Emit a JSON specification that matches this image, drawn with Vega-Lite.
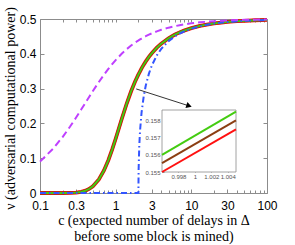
{
  "$schema": "https://vega.github.io/schema/vega-lite/v6.json",
  "width": 227,
  "height": 174,
  "autosize": {"type": "none"},
  "padding": {"left": 40, "top": 19, "right": 28, "bottom": 52},
  "background": "white",
  "config": {
    "view": {"stroke": "#8c8c8c", "strokeWidth": 1},
    "axis": {"labelFont": "Liberation Sans", "titleFont": "Liberation Serif", "titleFontWeight": "normal", "grid": false, "domain": false, "tickColor": "#8c8c8c", "labelColor": "#000000", "titleColor": "#000000", "labelFlush": false, "labelOverlap": false}
  },
  "datasets": {
    "curves": [
      {"c": 0.1, "tight": 0.0901, "pss": 0, "ours": 0},
      {"c": 0.15, "tight": 0.128, "pss": 0, "ours": 0},
      {"c": 0.2, "tight": 0.1615, "pss": 0, "ours": 0.00005},
      {"c": 0.25, "tight": 0.191, "pss": 0, "ours": 0.0003},
      {"c": 0.3, "tight": 0.2169, "pss": 0, "ours": 0.0013},
      {"c": 0.35, "tight": 0.2397, "pss": 0, "ours": 0.0034},
      {"c": 0.4, "tight": 0.2597, "pss": 0, "ours": 0.0069},
      {"c": 0.45, "tight": 0.2773, "pss": 0, "ours": 0.0123},
      {"c": 0.5, "tight": 0.2929, "pss": 0, "ours": 0.0195},
      {"c": 0.6, "tight": 0.319, "pss": 0, "ours": 0.0391},
      {"c": 0.7, "tight": 0.3398, "pss": 0, "ours": 0.0646},
      {"c": 0.8, "tight": 0.3566, "pss": 0, "ours": 0.0941},
      {"c": 0.9, "tight": 0.3704, "pss": 0, "ours": 0.1252},
      {"c": 1, "tight": 0.382, "pss": 0, "ours": 0.156},
      {"c": 1.2, "tight": 0.4, "pss": 0, "ours": 0.2119},
      {"c": 1.4, "tight": 0.4134, "pss": 0, "ours": 0.2571},
      {"c": 1.6, "tight": 0.4237, "pss": 0, "ours": 0.2923},
      {"c": 1.8, "tight": 0.4318, "pss": 0, "ours": 0.3195},
      {"c": 2, "tight": 0.4384, "pss": 0, "ours": 0.341},
      {"c": 2.001, "tight": 0.4384, "pss": 0.0219, "ours": 0.3411},
      {"c": 2.01, "tight": 0.4388, "pss": 0.0659, "ours": 0.3419},
      {"c": 2.05, "tight": 0.4399, "pss": 0.1351, "ours": 0.3453},
      {"c": 2.1, "tight": 0.4413, "pss": 0.1791, "ours": 0.3496},
      {"c": 2.2, "tight": 0.4439, "pss": 0.2317, "ours": 0.3581},
      {"c": 2.35, "tight": 0.4474, "pss": 0.2784, "ours": 0.3689},
      {"c": 2.5, "tight": 0.4505, "pss": 0.309, "ours": 0.3781},
      {"c": 2.75, "tight": 0.4549, "pss": 0.343, "ours": 0.3911},
      {"c": 3, "tight": 0.4586, "pss": 0.366, "ours": 0.4015},
      {"c": 3.5, "tight": 0.4645, "pss": 0.3956, "ours": 0.4175},
      {"c": 4, "tight": 0.4689, "pss": 0.4142, "ours": 0.429},
      {"c": 5, "tight": 0.4751, "pss": 0.4365, "ours": 0.4446},
      {"c": 6, "tight": 0.4792, "pss": 0.4495, "ours": 0.4546},
      {"c": 7, "tight": 0.4822, "pss": 0.458, "ours": 0.4615},
      {"c": 8, "tight": 0.4844, "pss": 0.4641, "ours": 0.4665},
      {"c": 10, "tight": 0.4875, "pss": 0.4721, "ours": 0.4736},
      {"c": 13, "tight": 0.4904, "pss": 0.4792, "ours": 0.48},
      {"c": 16, "tight": 0.4922, "pss": 0.4833, "ours": 0.4839},
      {"c": 20, "tight": 0.4938, "pss": 0.4868, "ours": 0.4872},
      {"c": 25, "tight": 0.495, "pss": 0.4896, "ours": 0.4898},
      {"c": 30, "tight": 0.4958, "pss": 0.4914, "ours": 0.4916},
      {"c": 40, "tight": 0.4969, "pss": 0.4936, "ours": 0.4937},
      {"c": 50, "tight": 0.4975, "pss": 0.4949, "ours": 0.4949},
      {"c": 70, "tight": 0.4982, "pss": 0.4964, "ours": 0.4964},
      {"c": 100, "tight": 0.4988, "pss": 0.4975, "ours": 0.4975}
    ],
    "arrow": [{"c": 1.87, "nu": 0.299, "c2": 9.33, "nu2": 0.2503}],
    "head": [{"c": 9.33, "nu": 0.2503}],
    "frame": [{"x": 0.996, "x2": 1.005, "y": 0.155, "y2": 0.1586}],
    "inset": [
      {"s": "red", "x": 0.996, "y": 0.155},
      {"s": "red", "x": 1.005, "y": 0.15747},
      {"s": "brown", "x": 0.996, "y": 0.15552},
      {"s": "brown", "x": 1.005, "y": 0.158},
      {"s": "green", "x": 0.996, "y": 0.156},
      {"s": "green", "x": 1.005, "y": 0.1585}
    ]
  },
  "layer": [
    {
      "data": {"name": "curves"},
      "encoding": {
        "x": {
          "field": "c", "type": "quantitative",
          "scale": {"type": "log", "domain": [0.1, 100], "nice": false},
          "axis": {
            "values": [0.1, 0.3, 1, 3, 10, 30, 100],
            "format": "~g",
            "title": ["c (expected number of delays in Δ", "before some block is mined)"],
            "labelFontSize": 12, "labelPadding": 11, "tickSize": -4,
            "titleFontSize": 14, "titleY": 31, "titleBaseline": "alphabetic", "titleLineHeight": 16
          }
        },
        "y": {
          "field": "nu", "type": "quantitative",
          "scale": {"domain": [0, 0.5], "nice": false, "zero": false},
          "axis": {
            "values": [0, 0.1, 0.2, 0.3, 0.4, 0.5], "format": "~g",
            "title": "ν (adversarial computational power)",
            "labelFontSize": 12, "labelPadding": 8, "tickSize": -4,
            "titleFontSize": 14, "titleX": -26, "titleY": 89, "titleBaseline": "alphabetic", "titleAlign": "center", "titleAngle": 270
          }
        }
      },
      "layer": [
        {"transform": [{"fold": ["ours"], "as": ["s", "nu"]}], "mark": {"type": "line", "color": "#ff1010", "strokeWidth": 3.8}},
        {"transform": [{"fold": ["ours"], "as": ["s", "nu"]}], "mark": {"type": "line", "color": "#8b3e13", "strokeWidth": 2.8}},
        {"transform": [{"fold": ["ours"], "as": ["s", "nu"]}], "mark": {"type": "line", "color": "#44cc11", "strokeWidth": 1.8}},
        {"transform": [{"fold": ["pss"], "as": ["s", "nu"]}], "mark": {"type": "line", "color": "#3355ff", "strokeWidth": 2, "strokeDash": [6, 3, 1.5, 3]}},
        {"transform": [{"fold": ["tight"], "as": ["s", "nu"]}], "mark": {"type": "line", "color": "#bf3fff", "strokeWidth": 2, "strokeDash": [7, 4]}},
        {"data": {"name": "arrow"}, "mark": {"type": "rule", "color": "#000000", "strokeWidth": 0.8}, "encoding": {"x2": {"field": "c2"}, "y2": {"field": "nu2"}}},
        {"data": {"name": "head"}, "mark": {"type": "point", "shape": "triangle-right", "filled": true, "color": "#000000", "opacity": 1, "size": 40, "angle": 18}}
      ]
    },
    {
      "data": {"name": "curves"},
      "mark": {"type": "point", "opacity": 0},
      "encoding": {
        "x": {
          "field": "c", "type": "quantitative",
          "scale": {"type": "log", "domain": [0.1, 100], "nice": false},
          "axis": {
            "orient": "top", "labels": false, "title": null, "tickSize": -3,
            "values": [0.1, 0.2, 0.3, 0.4, 0.5, 0.6, 0.7, 0.8, 0.9, 1, 2, 3, 4, 5, 6, 7, 8, 9, 10, 20, 30, 40, 50, 60, 70, 80, 90, 100]
          }
        },
        "y": {
          "field": "ours", "type": "quantitative",
          "scale": {"domain": [0, 0.5], "nice": false, "zero": false},
          "axis": {"orient": "right", "labels": false, "title": null, "tickSize": -4, "values": [0, 0.1, 0.2, 0.3, 0.4, 0.5]}
        }
      }
    },
    {
      "data": {"name": "curves"},
      "mark": {"type": "point", "opacity": 0},
      "encoding": {
        "x": {
          "field": "c", "type": "quantitative",
          "scale": {"type": "log", "domain": [0.1, 100], "nice": false},
          "axis": {
            "orient": "bottom", "labels": false, "title": null, "tickSize": -3,
            "values": [0.2, 0.4, 0.5, 0.6, 0.7, 0.8, 0.9, 2, 4, 5, 6, 7, 8, 9, 20, 40, 50, 60, 70, 80, 90]
          }
        },
        "y": {
          "field": "ours", "type": "quantitative",
          "scale": {"domain": [0, 0.5], "nice": false, "zero": false},
          "axis": null
        }
      }
    },
    {
      "data": {"name": "inset"},
      "encoding": {
        "x": {
          "field": "x", "type": "quantitative",
          "scale": {"domain": [0.996, 1.005], "range": [122, 196], "nice": false, "zero": false},
          "axis": {
            "orient": "bottom", "offset": -21, "values": [0.998, 1, 1.002, 1.004], "format": "~g",
            "title": null, "labelFontSize": 6, "labelColor": "#555555", "tickSize": -2, "labelPadding": 3
          }
        },
        "y": {
          "field": "y", "type": "quantitative",
          "scale": {"domain": [0.155, 0.1586], "range": [153, 91], "nice": false, "zero": false},
          "axis": {
            "orient": "left", "offset": -122, "values": [0.155, 0.156, 0.157, 0.158], "format": ".3f",
            "title": null, "labelFontSize": 6, "labelColor": "#555555", "tickSize": -2, "labelPadding": 4
          }
        }
      },
      "layer": [
        {"data": {"name": "frame"}, "mark": {"type": "rect", "fill": "white", "stroke": "#8c8c8c", "strokeWidth": 0.8}, "encoding": {"x2": {"field": "x2"}, "y2": {"field": "y2"}}},
        {"transform": [{"filter": "datum.s == 'red'"}], "mark": {"type": "line", "color": "#ff1010", "strokeWidth": 2}},
        {"transform": [{"filter": "datum.s == 'brown'"}], "mark": {"type": "line", "color": "#8b3e13", "strokeWidth": 2}},
        {"transform": [{"filter": "datum.s == 'green'"}], "mark": {"type": "line", "color": "#44cc11", "strokeWidth": 2}}
      ]
    }
  ],
  "resolve": {"scale": {"x": "independent", "y": "independent"}, "axis": {"x": "independent", "y": "independent"}}
}
